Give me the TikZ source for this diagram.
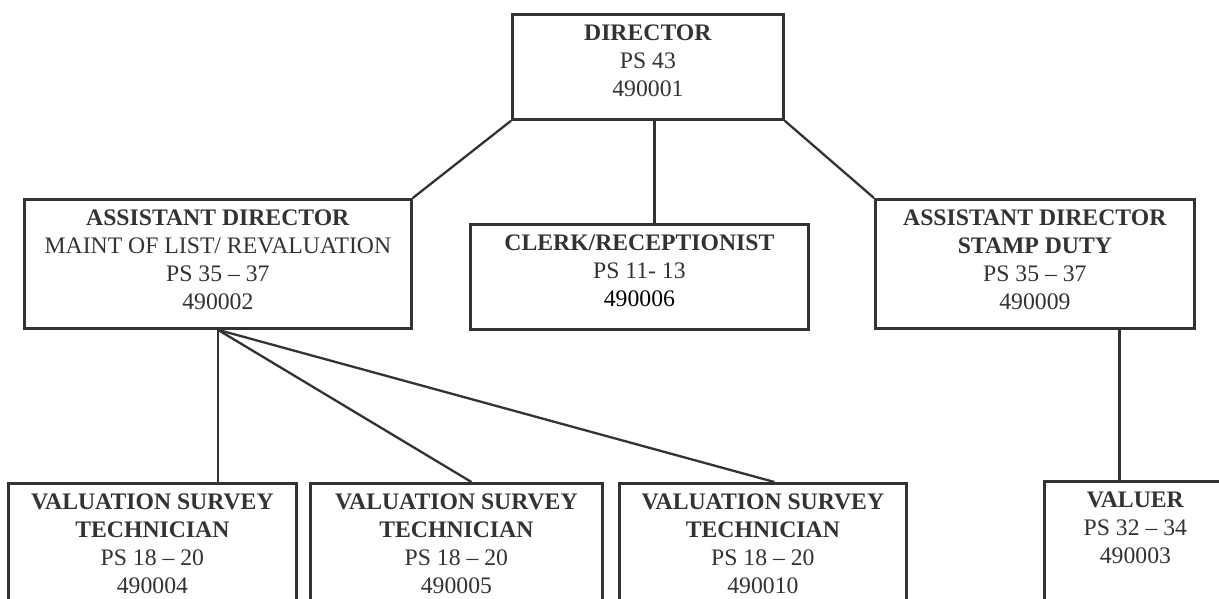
\documentclass[tikz,border=0pt]{standalone}
\usepackage{fontspec}
\setmainfont{Liberation Serif}
\definecolor{ink}{HTML}{333333}
\tikzset{
  box/.style={draw=ink, line width=2.8pt, inner sep=0pt, anchor=north west},
  txt/.style={align=center, anchor=north, inner sep=0pt, text=ink, yshift=-11.5pt,
    font=\fontsize{23.7}{28}\selectfont},
  link/.style={draw=ink, line width=2.3pt},
}
\begin{document}
\begin{tikzpicture}[x=1pt, y=-1pt]
\useasboundingbox (0,0) rectangle (1219,599);
\fill[white] (0,0) rectangle (1219,599);
\clip (0,0) rectangle (1219,599);

\node[box, minimum width=271pt, minimum height=105pt,
  label={[txt]north:{\textbf{DIRECTOR}\\PS 43\\490001}}] (dir) at (511,13) {};
\node[box, minimum width=387pt, minimum height=129pt,
  label={[txt]north:{\textbf{ASSISTANT DIRECTOR}\\MAINT OF LIST/ REVALUATION\\PS 35 – 37\\490002}}] (adl) at (23,198) {};
\node[box, minimum width=338pt, minimum height=105pt,
  label={[txt]north:{\textbf{CLERK/RECEPTIONIST}\\PS 11- 13\\{\color{black}490006}}}] (clk) at (469,223) {};
\node[box, minimum width=319pt, minimum height=129pt,
  label={[txt]north:{\textbf{ASSISTANT DIRECTOR}\\\textbf{STAMP DUTY}\\PS 35 – 37\\490009}}] (adr) at (874,198) {};

\node[box, minimum width=288pt, minimum height=160pt,
  label={[txt]north:{\textbf{VALUATION SURVEY}\\\textbf{TECHNICIAN}\\PS 18 – 20\\490004}}] (v1) at (7,482) {};
\node[box, minimum width=292pt, minimum height=160pt,
  label={[txt]north:{\textbf{VALUATION SURVEY}\\\textbf{TECHNICIAN}\\PS 18 – 20\\490005}}] (v2) at (309,482) {};
\node[box, minimum width=287pt, minimum height=160pt,
  label={[txt]north:{\textbf{VALUATION SURVEY}\\\textbf{TECHNICIAN}\\PS 18 – 20\\490010}}] (v3) at (618,482) {};
\node[box, minimum width=182pt, minimum height=160pt,
  label={[txt]north:{\textbf{VALUER}\\PS 32 – 34\\490003}}] (val) at (1043,480) {};

\draw[link] (dir.south west) -- (adl.north east);
\draw[link] (dir.south east) -- (adr.north west);
\draw[link] ([xshift=6.5pt]dir.south) -- ([xshift=6.5pt]dir.south |- clk.north);
\draw[link] (adl.south) -- (adl.south |- v1.north);
\draw[link] (adl.south) -- ([xshift=15pt]v2.north);
\draw[link] (adl.south) -- ([xshift=11.5pt]v3.north);
\draw[link] ([xshift=84.5pt]adr.south) -- ([xshift=84.5pt]adr.south |- val.north);
\end{tikzpicture}
\end{document}
